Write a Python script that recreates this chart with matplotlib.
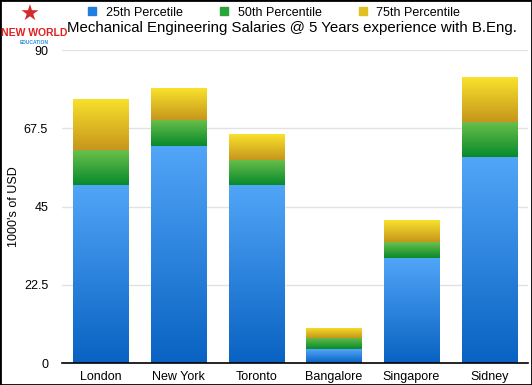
import numpy as np
import matplotlib.pyplot as plt
from matplotlib.colors import LinearSegmentedColormap

plt.rcParams['font.family'] = ['Liberation Sans', 'DejaVu Sans']

# Data
cities = ["London", "New York", "Toronto", "Bangalore", "Singapore", "Sidney"]
p25 = [51.2, 62.4, 51.2, 4.0, 30.2, 59.2]
p50 = [61.2, 69.9, 58.4, 7.2, 34.8, 69.3]
p75 = [75.9, 79.1, 65.8, 10.1, 41.1, 82.2]
legend_labels = ["25th Percetile", "50th Percentile", "75th Percentile"]
yticks = [0, 22.5, 45, 67.5, 90]
ytick_labels = ["0", "22.5", "45", "67.5", "90"]

# gradient colours: (top, bottom)
grads = [("#52a6f8", "#0962c2"), ("#6cc04a", "#078a2c"), ("#f9e22c", "#c6961c")]
swatch = ["#1f7ee0", "#2aa53a", "#e3c021"]

fig = plt.figure(figsize=(5.32, 3.85), dpi=100)
ax = fig.add_axes([0.1165, 0.0571, 0.876, 0.813])

x = np.arange(len(cities))
width = 0.71
lows = [np.zeros(len(cities)), np.array(p25), np.array(p50)]
highs = [np.array(p25), np.array(p50), np.array(p75)]

grad = np.linspace(1, 0, 256).reshape(-1, 1)
for (lo, hi), (top, bot) in zip(zip(lows, highs), grads):
    cmap = LinearSegmentedColormap.from_list("g", [bot, top])
    bars = ax.bar(x, hi - lo, width, bottom=lo, color="none", linewidth=0)
    for b in bars:
        x0, y0 = b.get_x(), b.get_y()
        im = ax.imshow(grad, cmap=cmap, aspect="auto", vmin=0, vmax=1,
                       extent=(x0, x0 + b.get_width(), y0, y0 + b.get_height()),
                       zorder=2, interpolation="bilinear")
        im.set_clip_path(b)

ax.set_xlim(-0.5, len(cities) - 0.5)
ax.set_ylim(0, 90)
ax.set_yticks(yticks)
ax.set_yticklabels(ytick_labels, fontsize=9)
ax.set_xticks(x)
ax.set_xticklabels(cities, fontsize=9)
ax.tick_params(axis="x", length=0, pad=6)
ax.tick_params(axis="y", length=0, pad=10)
ax.yaxis.grid(True, color="#e2e2e2", linewidth=1)
ax.set_axisbelow(True)
for s in ["top", "right", "left"]:
    ax.spines[s].set_visible(False)
ax.spines["bottom"].set_linewidth(1.2)
ax.set_ylabel("1000's of USD", fontsize=9, labelpad=3)

# legend
handles = [plt.Line2D([], [], marker="s", linestyle="none", markersize=6,
                      markerfacecolor=c, markeredgecolor=c) for c in swatch]
fig.legend(handles, legend_labels, loc="upper center", bbox_to_anchor=(0.512, 1.012),
           ncol=3, frameon=False, fontsize=9, columnspacing=2.7, handletextpad=0.5,
           handlelength=1.2)

fig.text(0.548, 0.927, "Mechanical Engineering Salaries @ 5 Years experience with B.Eng.",
         ha="center", va="center", fontsize=10.8)

# logo text
fig.text(0.064, 0.915, "NEW WORLD", ha="center", va="center", fontsize=7.5,
         color="#e02020", fontweight="bold")
fig.text(0.064, 0.890, "EDUCATION", ha="center", va="center", fontsize=3.5,
         color="#2a8fd8", fontweight="bold")
fig.text(0.055, 0.96, "\u2605", ha="center", va="center", fontsize=16, color="#d42a2a")

# border
fig.patches.append(plt.Rectangle((0, 0), 1, 1, transform=fig.transFigure,
                                 fill=False, edgecolor="black", linewidth=2))

fig.savefig("out.png", dpi=100)
